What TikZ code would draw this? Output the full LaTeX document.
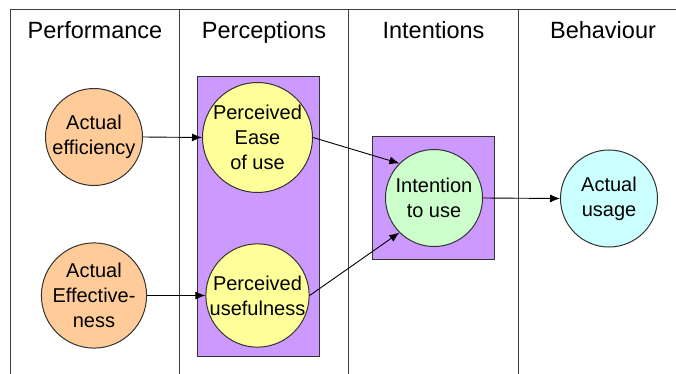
\documentclass[tikz,border=0pt]{standalone}
\usepackage{fontspec}
\setmainfont{Liberation Sans}
\usetikzlibrary{arrows.meta}
\definecolor{peach}{HTML}{FFCC99}
\definecolor{lyellow}{HTML}{FFFF99}
\definecolor{lpurple}{HTML}{CC99FF}
\definecolor{lgreen}{HTML}{CCFFCC}
\definecolor{lcyan}{HTML}{CCFFFF}
\definecolor{edge}{HTML}{333333}
\tikzset{
  bubble/.style={circle, draw=edge, line width=1pt, minimum size=97pt, inner sep=0pt, align=center, font=\fontsize{20}{25}\selectfont},
  group/.style={draw=edge, line width=1pt, fill=lpurple},
  frame/.style={draw=black!75, line width=1pt},
  header/.style={font=\fontsize{23.5}{28}\selectfont, inner sep=0pt, anchor=base},
  link/.style={draw=black, line width=0.9pt, -{Latex[length=10pt,width=8pt]}}
}
\begin{document}
\begin{tikzpicture}[x=1pt,y=-1pt]
\useasboundingbox (0,0) rectangle (676,374);
% frame
\draw[frame] (10,374) -- (10,10) -- (676,10);
\draw[frame] (179,10) -- (179,374);
\draw[frame] (348,10) -- (348,374);
\draw[frame] (518,10) -- (518,374);
% headers
\node[header] (h1) at (95,39) {Performance};
\node[header] (h2) at (264,39) {Perceptions};
\node[header] (h3) at (433.5,39) {Intentions};
\node[header] (h4) at (603,39) {Behaviour};
% group rectangles
\path[group] (197,77) rectangle (319,356);
\path[group] (372,137) rectangle (494,259);
% circles
\node[bubble, fill=peach] (eff) at (94,137) {Actual\\efficiency};
\node[bubble, fill=peach] (effect) at (94,295.5) {Actual\\Effective-\\ness};
\node[bubble, fill=lyellow] (ease) at (257.5,137.5) {Perceived\\Ease\\of use};
\node[bubble, fill=lyellow] (useful) at (257.5,295.5) {Perceived\\usefulness};
\node[bubble, fill=lgreen] (intent) at (434,198) {Intention\\to use};
\node[bubble, fill=lcyan] (usage) at (609,198.5) {Actual\\usage};
% connectors
\draw[link] (eff.east) -- (ease.west);
\draw[link] (effect.east) -- (useful.west);
\draw[link] (ease.east) -- (intent.135);
\draw[link] (useful.east) -- (intent.225);
\draw[link] (intent.east) -- (usage.west);
\end{tikzpicture}
\end{document}
